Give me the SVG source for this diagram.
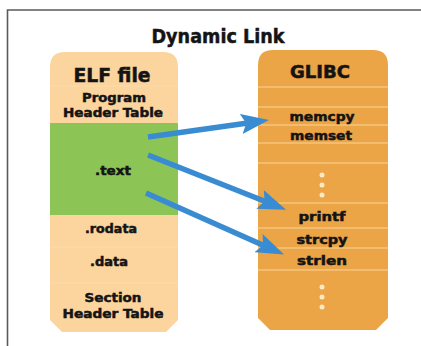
<svg xmlns="http://www.w3.org/2000/svg" width="421" height="346" viewBox="0 0 421 346">
<defs>
<style>
.t{font-family:"DejaVu Sans","Liberation Sans",sans-serif;font-weight:bold;fill:#141414;stroke:#141414;stroke-width:0.5;text-anchor:middle;}
.s{font-size:12.5px;}
.sep{stroke:#fcdcaa;stroke-width:1.2;}
.sepR{stroke:#f6c67e;stroke-width:1.5;}
.dot{fill:#fde9c6;}
.arr{stroke:#3a8cd2;stroke-width:5.5;fill:none;marker-end:url(#ah);}
</style>
<marker id="ah" viewBox="0 0 28 20" markerWidth="28" markerHeight="20" markerUnits="userSpaceOnUse" refX="5" refY="10" orient="auto">
<path d="M0,0 L28,10 L0,20 L5,10 Z" fill="#3a8cd2"/>
</marker>
</defs>
<rect width="421" height="346" fill="#ffffff"/>
<path d="M7.5,346 L7.5,10 L421,10" fill="none" stroke="#5a5a5a" stroke-width="1.6"/>
<text id="title" class="t" x="218" y="43" font-size="20" stroke-width="0.8" textLength="133" lengthAdjust="spacingAndGlyphs">Dynamic Link</text>

<g id="elf">
<path d="M50,67 Q50,52 65,52 L163,52 Q178,52 178,67 L178,320 L166,332 L62,332 L50,320 Z" fill="#fbd49e"/>
<line class="sep" x1="50" y1="86" x2="178" y2="86"/>
<line class="sep" x1="50" y1="247" x2="178" y2="247"/>
<line class="sep" x1="50" y1="283" x2="178" y2="283"/>
<rect x="50" y="123" width="128" height="92" fill="#8cc456"/>
<text class="t" x="112" y="82" font-size="19" stroke-width="0.8" textLength="77" lengthAdjust="spacingAndGlyphs">ELF file</text>
<text class="t s" x="114" y="102" textLength="64" lengthAdjust="spacingAndGlyphs">Program</text>
<text class="t s" x="113" y="117" textLength="100" lengthAdjust="spacingAndGlyphs">Header Table</text>
<text class="t s" x="113" y="175" textLength="36" lengthAdjust="spacingAndGlyphs">.text</text>
<text class="t s" x="111" y="233" textLength="52" lengthAdjust="spacingAndGlyphs">.rodata</text>
<text class="t s" x="109" y="266" textLength="38" lengthAdjust="spacingAndGlyphs">.data</text>
<text class="t s" x="113" y="302" textLength="57" lengthAdjust="spacingAndGlyphs">Section</text>
<text class="t s" x="113" y="318" textLength="101" lengthAdjust="spacingAndGlyphs">Header Table</text>
</g>

<g id="glibc">
<path d="M258,65 Q258,50 273,50 L373,50 Q388,50 388,65 L388,318 L376,330 L270,330 L258,318 Z" fill="#eba446"/>
<line class="sepR" x1="258" y1="87" x2="388" y2="87"/>
<line class="sepR" x1="258" y1="107" x2="388" y2="107"/>
<line class="sepR" x1="258" y1="125" x2="388" y2="125"/>
<line class="sepR" x1="258" y1="143" x2="388" y2="143"/>
<line class="sepR" x1="258" y1="163" x2="388" y2="163"/>
<line class="sepR" x1="258" y1="203" x2="388" y2="203"/>
<line class="sepR" x1="258" y1="228" x2="388" y2="228"/>
<line class="sepR" x1="258" y1="248" x2="388" y2="248"/>
<line class="sepR" x1="258" y1="270" x2="388" y2="270"/>
<text class="t" x="320" y="78" font-size="17" stroke-width="0.8" textLength="60" lengthAdjust="spacingAndGlyphs">GLIBC</text>
<text class="t s" x="322" y="121" textLength="65" lengthAdjust="spacingAndGlyphs">memcpy</text>
<text class="t s" x="321" y="140" textLength="62" lengthAdjust="spacingAndGlyphs">memset</text>
<text class="t s" x="322" y="221" textLength="47" lengthAdjust="spacingAndGlyphs">printf</text>
<text class="t s" x="322" y="244" textLength="51" lengthAdjust="spacingAndGlyphs">strcpy</text>
<text class="t s" x="322" y="265" textLength="50" lengthAdjust="spacingAndGlyphs">strlen</text>
<circle class="dot" cx="322" cy="175" r="2.5"/>
<circle class="dot" cx="322" cy="185" r="2.5"/>
<circle class="dot" cx="322" cy="195" r="2.5"/>
<circle class="dot" cx="322" cy="287" r="2.5"/>
<circle class="dot" cx="322" cy="297" r="2.5"/>
<circle class="dot" cx="322" cy="307" r="2.5"/>
</g>

<g id="connectors">
<line class="arr" x1="148" y1="137" x2="246.2" y2="123.3"/>
<line class="arr" x1="148" y1="155" x2="264.7" y2="201.2"/>
<line class="arr" x1="146" y1="193" x2="263.1" y2="245.2"/>
</g>
</svg>
